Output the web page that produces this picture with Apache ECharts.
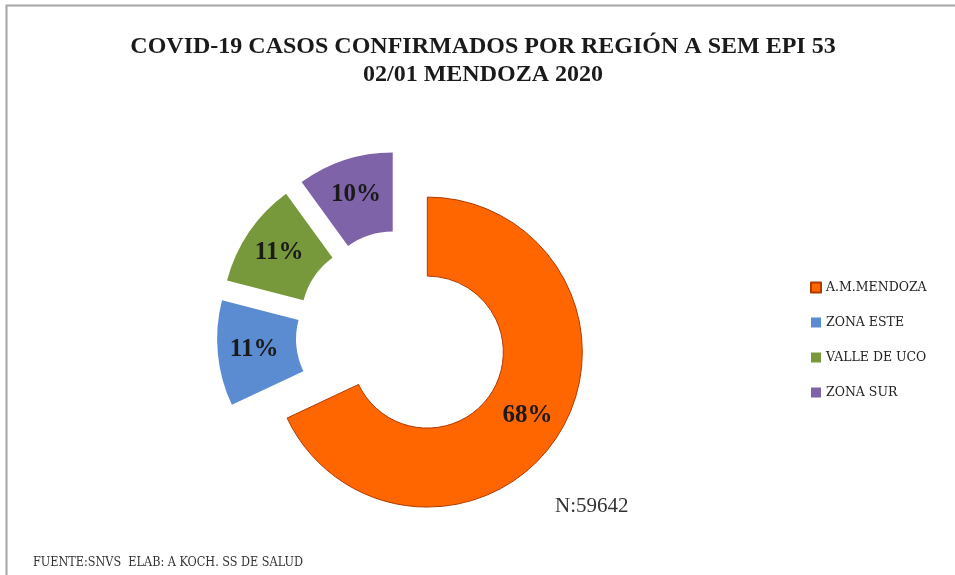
<!DOCTYPE html>
<html>
<head>
<meta charset="utf-8">
<script src="https://cdn.jsdelivr.net/npm/echarts@6/dist/echarts.min.js"></script>
<style>
  html, body { margin: 0; padding: 0; background: #fff; }
  #chart { width: 955px; height: 575px; }
</style>
</head>
<body>
<div id="chart"></div>
<script>
const regiones = ["A.M.MENDOZA", "ZONA ESTE", "VALLE DE UCO", "ZONA SUR"];
const porcentajes = [68, 11, 11, 10];
const colores = ["#ff6600", "#5b8bd0", "#77993c", "#7f63a8"];
const totalCasos = "N:59642";

const serif = "'Liberation Serif', 'DejaVu Serif', serif";

const chart = echarts.init(document.getElementById("chart"));

const datos = regiones.map((nombre, i) => ({
  name: nombre,
  value: porcentajes[i],
  selected: true,
  itemStyle: {
    color: colores[i],
    borderColor: i === 0 ? "#b03a00" : colores[i],
    borderWidth: i === 0 ? 1 : 0
  },
  // la etiqueta de ZONA SUR va un poco desplazada en el original
  label: i === 3 ? { offset: [12, -6] } : {}
}));

chart.setOption({
  animation: false,
  title: {
    text: "COVID-19 CASOS CONFIRMADOS POR REGIÓN A SEM EPI 53\n02/01 MENDOZA 2020",
    left: 478,
    top: 28,
    textAlign: "center",
    textStyle: {
      fontFamily: serif,
      fontWeight: "bold",
      fontSize: 24,
      lineHeight: 28,
      color: "#1a1a1a"
    }
  },
  legend: {
    orient: "vertical",
    left: 805,
    top: 276,
    itemWidth: 10,
    itemHeight: 10,
    itemGap: 22,
    icon: "rect",
    selectedMode: false,
    textStyle: {
      fontFamily: "'DejaVu Serif', serif",
      fontSize: 12.5,
      color: "#222"
    },
    data: regiones
  },
  graphic: [
    {
      type: "rect",
      shape: { x: 6.5, y: 5.5, width: 1200, height: 1200 },
      style: { fill: null, stroke: "#a6a6a6", lineWidth: 2 },
      silent: true
    },
    {
      type: "text",
      left: 555,
      top: 496,
      style: {
        text: totalCasos,
        font: "21px " + serif,
        fill: "#333"
      }
    },
    {
      type: "text",
      left: 33,
      top: 556,
      style: {
        text: "FUENTE:SNVS  ELAB: A KOCH. SS DE SALUD",
        font: "12.5px 'DejaVu Serif Condensed', 'DejaVu Serif', serif",
        fill: "#333"
      }
    }
  ],
  series: [
    {
      type: "pie",
      center: [402, 336],
      radius: [76, 155],
      startAngle: 90,
      clockwise: true,
      selectedMode: "multiple",
      selectedOffset: 30,
      avoidLabelOverlap: false,
      label: {
        position: "inside",
        formatter: (p) => Math.round(p.percent) + "%",
        fontFamily: serif,
        fontWeight: "bold",
        fontSize: 25,
        color: "#1a1a1a"
      },
      labelLine: { show: false },
      emphasis: { disabled: true },
      select: {
        itemStyle: {}
      },
      data: datos
    }
  ]
});
</script>
</body>
</html>
